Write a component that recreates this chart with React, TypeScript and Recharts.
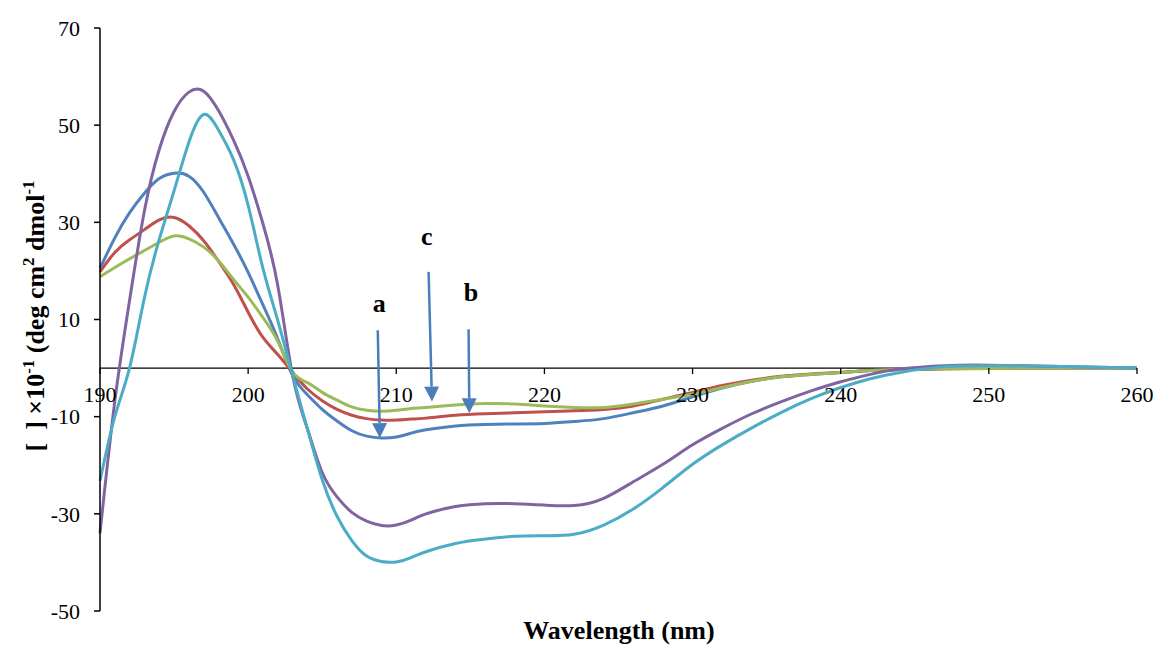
import React from 'react';
import { LineChart, Line, XAxis, YAxis, ReferenceLine, ReferenceDot } from 'recharts';

// wavelength grid (nm)
const wavelength = [
  190, 191, 192, 193, 194, 195, 196, 197, 198, 199, 200, 201, 202, 203, 204, 205, 206, 207, 208, 209, 210, 211, 212,
  214, 216, 218, 220, 222, 224, 226, 228, 230, 232, 234, 236, 238, 240, 242, 244,
  247, 250, 254, 260,
];

// ellipticity curves
const seriesA = [
  20.5, 26.8, 32, 36, 39, 40.1, 39.5, 36.2, 31, 25.6, 19.7, 13, 6, -1.5, -5.5, -8.5, -10.9, -12.9, -14, -14.4, -14.2, -13.4, -12.7,
  -11.9, -11.6, -11.5, -11.4, -11, -10.4, -9.2, -7.8, -5.9, -4.1, -2.7, -1.8, -1.3, -0.9, -0.5, -0.3,
  -0.1, 0, 0, 0,
];
const seriesB = [
  19.8, 23.8, 26.4, 28.5, 30.5, 31, 29.3, 26.2, 22, 17.3, 11.5, 6.3, 2.8, -0.9, -4.3, -6.7, -8.5, -9.7, -10.4, -10.7, -10.7, -10.5, -10.3,
  -9.7, -9.4, -9.2, -9, -8.8, -8.5, -7.8, -6.4, -5, -3.6, -2.5, -1.7, -1.2, -0.9, -0.5, -0.3,
  -0.2, -0.1, 0, 0,
];
const seriesC = [
  18.8, 20.7, 22.5, 24.2, 25.9, 27.2, 26.6, 24.9, 22.1, 18.3, 14.6, 10.4, 5.5, -0.8, -3, -5, -6.6, -8, -8.7, -8.9, -8.7, -8.3, -8.1,
  -7.6, -7.3, -7.4, -7.8, -8.1, -8.1, -7.4, -6.4, -5.4, -4, -2.7, -1.8, -1.3, -0.9, -0.5, -0.3,
  -0.1, -0.1, 0, 0,
];
const seriesD = [
  -34, -6.8, 14, 32.4, 45, 52.8, 56.8, 57, 53, 47, 39.5, 29.7, 17, -1.5, -12.5, -21.5, -26.5, -29.7, -31.5, -32.4, -32.3, -31.3, -30,
  -28.5, -27.9, -27.9, -28.2, -28.3, -26.8, -23.4, -19.8, -15.8, -12.4, -9.4, -6.9, -4.7, -2.8, -1.3, -0.2,
  0.5, 0.6, 0.4, 0,
];
const seriesE = [
  -23.2, -10, 0.1, 14.5, 26.5, 36.5, 46.5, 52.2, 49, 43, 33.5, 20.5, 9.8, -1.5, -12.5, -23, -30.5, -35.5, -38.7, -39.8, -39.9, -39, -37.8,
  -36.1, -35.2, -34.6, -34.5, -34.2, -32.3, -29, -24.6, -19.8, -15.8, -12.3, -9.1, -6.3, -4, -2.2, -0.9,
  0.3, 0.5, 0.4, 0,
];

const xTicks = [190, 200, 210, 220, 230, 240, 250, 260];
const yTicks = [-50, -30, -10, 10, 30, 50, 70];

// arrow annotations: label, tail (x,y), tip (x,y), label baseline (x,y)
const arrowLabels = ['a', 'b', 'c'];
const arrowTail = [[208.75, 7.8], [214.88, 8.0], [212.18, 19.8]];
const arrowTip = [[208.89, -14.4], [214.93, -9.3], [212.41, -6.9]];
const labelPos = [[208.85, 11.5], [215.04, 13.8], [212.05, 25.3]];

const Y_MIN = -50;
const Y_MAX = 70;
const PLOT_TOP = 28;
const PLOT_H = 583;
const ZERO_Y = PLOT_TOP + (PLOT_H * Y_MAX) / (Y_MAX - Y_MIN);

const FONT = '"Liberation Serif", "Times New Roman", serif';
const ARROW_COLOR = '#4A7EBB';

const data = wavelength.map((w, i) => ({
  w,
  a: seriesA[i],
  b: seriesB[i],
  c: seriesC[i],
  d: seriesD[i],
  e: seriesE[i],
}));

const XTick = (props: any) => {
  const { x, payload } = props;
  return (
    <g>
      <line x1={x} x2={x} y1={ZERO_Y} y2={ZERO_Y + 6} stroke="#000" strokeWidth={1.3} />
      <text x={x} y={ZERO_Y + 34} textAnchor="middle" fontSize={22} fontFamily={FONT} fill="#000">
        {payload.value}
      </text>
    </g>
  );
};

const Arrow = (props: any) => {
  const { x1, y1, x2, y2 } = props;
  const ang = Math.atan2(y2 - y1, x2 - x1);
  const len = 15;
  const half = 7.5;
  const bx = x2 - len * Math.cos(ang);
  const by = y2 - len * Math.sin(ang);
  const px = -Math.sin(ang);
  const py = Math.cos(ang);
  const pts = `${x2},${y2} ${bx + px * half},${by + py * half} ${bx - px * half},${by - py * half}`;
  return (
    <g>
      <line x1={x1} y1={y1} x2={bx} y2={by} stroke={ARROW_COLOR} strokeWidth={2.5} />
      <polygon points={pts} fill={ARROW_COLOR} />
    </g>
  );
};

const LabelText = (text: string) => (props: any) => (
  <text x={props.cx} y={props.cy} textAnchor="middle" fontSize={26} fontWeight="bold" fontFamily={FONT} fill="#000">
    {text}
  </text>
);

export default function App() {
  return (
    <div style={{ position: 'relative', width: 1161, height: 646, fontFamily: FONT, background: '#fff' }}>
      <style>{'body{margin:0}'}</style>
      <LineChart
        width={1161}
        height={646}
        data={data}
        margin={{ top: PLOT_TOP, right: 24, bottom: 5, left: 0 }}
      >
        <XAxis
          dataKey="w"
          type="number"
          domain={[190, 260]}
          ticks={xTicks}
          axisLine={false}
          tickLine={false}
          tick={<XTick />}
          height={30}
          interval={0}
        />
        <YAxis
          type="number"
          domain={[Y_MIN, Y_MAX]}
          ticks={yTicks}
          width={100}
          axisLine={{ stroke: '#000', strokeWidth: 1.5 }}
          tickLine={{ stroke: '#000', strokeWidth: 1.5 }}
          tickSize={6}
          tickMargin={14}
          tick={{ fill: '#000', fontSize: 22, fontFamily: FONT }}
          interval={0}
        />
        <ReferenceLine y={0} stroke="#000" strokeWidth={1.3} />
        <Line type="natural" dataKey="a" stroke="#4F81BD" strokeWidth={3} dot={false} isAnimationActive={false} />
        <Line type="natural" dataKey="b" stroke="#C0504D" strokeWidth={3} dot={false} isAnimationActive={false} />
        <Line type="natural" dataKey="c" stroke="#9BBB59" strokeWidth={3} dot={false} isAnimationActive={false} />
        <Line type="natural" dataKey="d" stroke="#8064A2" strokeWidth={3} dot={false} isAnimationActive={false} />
        <Line type="natural" dataKey="e" stroke="#4BACC6" strokeWidth={3} dot={false} isAnimationActive={false} />
        {arrowLabels.map((l, i) => (
          <ReferenceLine
            key={`arrow-${l}`}
            segment={[
              { x: arrowTail[i][0], y: arrowTail[i][1] },
              { x: arrowTip[i][0], y: arrowTip[i][1] },
            ]}
            ifOverflow="visible"
            shape={Arrow}
          />
        ))}
        {arrowLabels.map((l, i) => (
          <ReferenceDot
            key={`label-${l}`}
            x={labelPos[i][0]}
            y={labelPos[i][1]}
            r={0}
            ifOverflow="visible"
            shape={LabelText(l)}
          />
        ))}
      </LineChart>
      <div
        style={{
          position: 'absolute',
          left: 29 - 160,
          top: 316 - 15,
          width: 320,
          height: 30,
          lineHeight: '30px',
          textAlign: 'center',
          transform: 'rotate(-90deg)',
          fontSize: 26,
          fontWeight: 'bold',
          whiteSpace: 'nowrap',
          color: '#000',
        }}
      >
        [&#8194;] ×10<sup style={{ fontSize: '0.65em' }}>-1</sup> (deg cm<sup style={{ fontSize: '0.65em' }}>2</sup> dmol
        <sup style={{ fontSize: '0.65em' }}>-1</sup>
      </div>
      <div
        style={{
          position: 'absolute',
          left: 619 - 150,
          top: 640 - 24,
          width: 300,
          textAlign: 'center',
          fontSize: 26,
          fontWeight: 'bold',
          lineHeight: '30px',
          color: '#000',
        }}
      >
        Wavelength (nm)
      </div>
    </div>
  );
}
